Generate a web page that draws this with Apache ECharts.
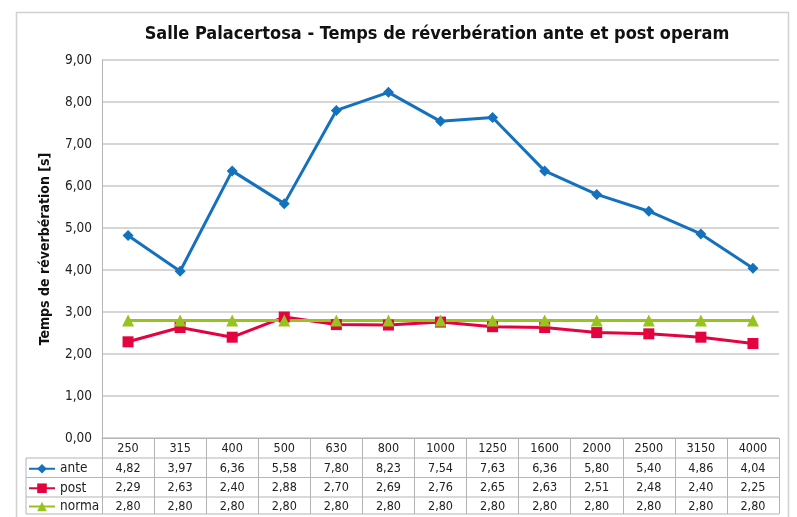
<!DOCTYPE html>
<html>
<head>
    <meta charset="utf-8" />
    <title></title>
    <script src="https://cdn.jsdelivr.net/npm/echarts@6/dist/echarts.min.js"></script>
</head>
<body style="margin:0;background:#fff;">
    <div id="divChart" style="width:797px;height:517px;"></div>
    <script>
        let freq = ['250', '315', '400', '500', '630', '800', '1000', '1250', '1600', '2000', '2500', '3150', '4000'];
        let ante = [4.82, 3.97, 6.36, 5.58, 7.80, 8.23, 7.54, 7.63, 6.36, 5.80, 5.40, 4.86, 4.04];
        let post = [2.29, 2.63, 2.40, 2.88, 2.70, 2.69, 2.76, 2.65, 2.63, 2.51, 2.48, 2.40, 2.25];
        let norma = [2.80, 2.80, 2.80, 2.80, 2.80, 2.80, 2.80, 2.80, 2.80, 2.80, 2.80, 2.80, 2.80];
        let seriesNames = ['ante', 'post', 'norma'];

        let font = '"DejaVu Sans Condensed", "DejaVu Sans", sans-serif';
        let fmt = function (v) { return Number(v).toFixed(2).replace('.', ','); };

        // 表格下方的数值行，每行一个类目轴
        let rowAxis = function (vals, offset) {
            return {
                type: 'category',
                position: 'bottom',
                offset: offset,
                data: vals.map(fmt),
                axisLine: { show: false },
                axisTick: { show: false },
                axisLabel: { interval: 0, margin: 4, color: '#222', fontSize: 12.5, fontFamily: font }
            };
        };

        let gridLeft = 102, gridRight = 779, gridBottom = 438;
        let tableLeft = 26;
        let rowY = [458, 477.5, 497, 514];
        let lineStyle = { stroke: '#b4b4b4', lineWidth: 1 };
        let graphics = [{
            type: 'rect', shape: { x: 16.5, y: 12.5, width: 772, height: 530 },
            style: { fill: 'none', stroke: '#d0d0d0', lineWidth: 1.5 }, silent: true
        }, {
            type: 'line', shape: { x1: tableLeft, y1: rowY[0], x2: tableLeft, y2: rowY[3] }, style: lineStyle
        }];
        rowY.forEach(function (y) {
            graphics.push({ type: 'line', shape: { x1: tableLeft, y1: y, x2: gridRight, y2: y }, style: lineStyle });
        });

        // 每行一个图例，放在表格左列
        let legends = seriesNames.map(function (n, i) {
            return {
                left: 28, top: (rowY[i] + rowY[i + 1]) / 2 - 6, padding: 0,
                itemWidth: 26, itemHeight: 12,
                textStyle: { fontSize: 13.5, color: '#222', fontFamily: font },
                data: [n]
            };
        });

        let option = {
            backgroundColor: '#fff',
            animation: false,
            title: {
                text: 'Salle Palacertosa - Temps de réverbération ante et post operam',
                left: 432, top: 20, textAlign: 'center',
                textStyle: { fontSize: 18, fontWeight: 'bold', color: '#111', fontFamily: font }
            },
            legend: legends,
            grid: { left: gridLeft, right: 797 - gridRight, top: 60, bottom: 517 - gridBottom },
            xAxis: [{
                type: 'category',
                data: freq,
                position: 'bottom',
                axisLine: { lineStyle: { color: '#b4b4b4' } },
                axisTick: { show: true, interval: 0, length: 76, lineStyle: { color: '#b4b4b4' } },
                axisLabel: { interval: 0, margin: 4, color: '#222', fontSize: 12.5, fontFamily: font }
            }, rowAxis(ante, 20), rowAxis(post, 39.5), rowAxis(norma, 58)],
            yAxis: {
                type: 'value', min: 0, max: 9, interval: 1,
                name: 'Temps de réverbération [s]',
                nameLocation: 'middle', nameGap: 50, nameRotate: 90,
                nameTextStyle: { fontSize: 14, fontWeight: 'bold', color: '#111', fontFamily: font },
                axisLine: { show: true, lineStyle: { color: '#b4b4b4' } },
                axisTick: { show: false },
                splitLine: { lineStyle: { color: '#c8c8c8', width: 1.5 } },
                axisLabel: { margin: 10, color: '#222', fontSize: 13.5, fontFamily: font, formatter: fmt }
            },
            series: [{
                name: 'ante', type: 'line', data: ante,
                symbol: 'diamond', symbolSize: 11,
                lineStyle: { width: 3, color: '#1471bd' }, itemStyle: { color: '#1471bd' }
            }, {
                name: 'post', type: 'line', data: post,
                symbol: 'rect', symbolSize: 11,
                lineStyle: { width: 3, color: '#e4023f' }, itemStyle: { color: '#e4023f' }
            }, {
                name: 'norma', type: 'line', data: norma,
                symbol: 'triangle', symbolSize: 12,
                lineStyle: { width: 3, color: '#96c31d' }, itemStyle: { color: '#96c31d' }
            }],
            graphic: graphics
        };
        echarts.init(document.getElementById('divChart')).setOption(option);
    </script>
</body>
</html>
